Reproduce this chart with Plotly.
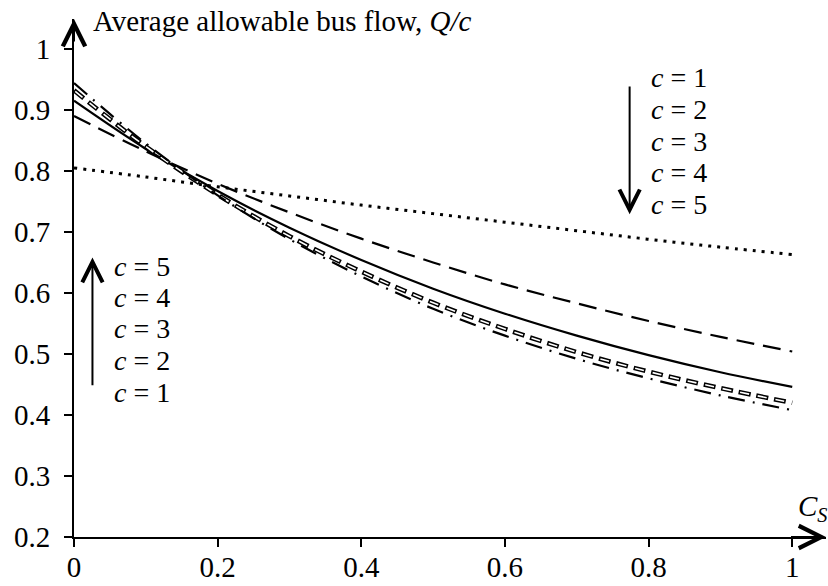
import plotly.graph_objects as go

# Cs values and the average allowable bus flow Q/c for bus stops with c = 1..5 berths
cs = [0.0, 0.1, 0.2, 0.3, 0.4, 0.5, 0.6, 0.7, 0.8, 0.9, 1.0]
q_c1 = [0.805, 0.790, 0.774, 0.759, 0.744, 0.730, 0.716, 0.702, 0.688, 0.675, 0.663]
q_c2 = [0.890, 0.832, 0.779, 0.732, 0.689, 0.650, 0.614, 0.583, 0.554, 0.528, 0.504]
q_c3 = [0.915, 0.836, 0.767, 0.707, 0.654, 0.607, 0.566, 0.530, 0.498, 0.470, 0.446]
q_c4 = [0.932, 0.840, 0.761, 0.693, 0.635, 0.584, 0.541, 0.503, 0.471, 0.444, 0.420]
q_c5 = [0.944, 0.845, 0.760, 0.688, 0.627, 0.574, 0.530, 0.492, 0.460, 0.432, 0.408]

x_ticks = [0, 0.2, 0.4, 0.6, 0.8, 1]
x_tick_text = ["0", "0.2", "0.4", "0.6", "0.8", "1"]
y_ticks = [0.2, 0.3, 0.4, 0.5, 0.6, 0.7, 0.8, 0.9, 1.0]
y_tick_text = ["0.2", "0.3", "0.4", "0.5", "0.6", "0.7", "0.8", "0.9", "1"]

labels_up = ["c = 5", "c = 4", "c = 3", "c = 2", "c = 1"]
labels_down = ["c = 1", "c = 2", "c = 3", "c = 4", "c = 5"]

FONT = "Liberation Serif"
FS = 29
LABEL_FS = 28

fig = go.Figure()


def curve(y, width, dash, color="black"):
    fig.add_trace(go.Scatter(
        x=cs, y=y, mode="lines",
        line=dict(color=color, width=width, dash=dash, shape="spline"),
        showlegend=False, hoverinfo="skip",
    ))


curve(q_c1, 3, "3px,6px")                 # c = 1 dotted
curve(q_c2, 2.2, "18px,9px")              # c = 2 long dash
curve(q_c3, 2.2, "solid")                 # c = 3 solid
curve(q_c4, 4.6, "12px,6px")              # c = 4 outlined dashes (outer)
curve(q_c4, 1.6, "0px,1.5px,9px,7.5px", "white")  # c = 4 outlined dashes (inner)
curve(q_c5, 2.2, "17px,8px,2px,8px")      # c = 5 dash-dot

annotations = []

# axis arrowheads at the ends of the axis lines
annotations.append(dict(x=1, y=0, xref="paper", yref="paper", ax=-40, ay=0,
                        text=" ", showarrow=True, arrowhead=5, arrowsize=2.2,
                        arrowwidth=2, arrowcolor="black"))
annotations.append(dict(x=0, y=1, xref="paper", yref="paper", ax=0, ay=40,
                        text=" ", showarrow=True, arrowhead=5, arrowsize=2.2,
                        arrowwidth=2, arrowcolor="black"))

# trend arrows for the number of berths
annotations.append(dict(x=0.0257, y=0.658, ax=0.0257, ay=0.42, xref="x", yref="y",
                        axref="x", ayref="y", text=" ", showarrow=True,
                        arrowhead=5, arrowsize=2.0, arrowwidth=2, arrowcolor="black"))
annotations.append(dict(x=0.7736, y=0.729, ax=0.7736, ay=0.967, xref="x", yref="y",
                        axref="x", ayref="y", text=" ", showarrow=True,
                        arrowhead=5, arrowsize=2.0, arrowwidth=2, arrowcolor="black"))

up_y = [0.644, 0.593, 0.541, 0.489, 0.437]
for lab, yy in zip(labels_up, up_y):
    annotations.append(dict(x=0.053, y=yy, xref="x", yref="y", xanchor="left",
                            yanchor="middle", showarrow=False,
                            text="<i>c</i>" + lab[1:],
                            font=dict(family=FONT, size=LABEL_FS, color="black")))

down_y = [0.953, 0.901, 0.849, 0.797, 0.745]
for lab, yy in zip(labels_down, down_y):
    annotations.append(dict(x=0.8, y=yy, xref="x", yref="y", xanchor="left",
                            yanchor="middle", showarrow=False,
                            text="<i>c</i>" + lab[1:],
                            font=dict(family=FONT, size=LABEL_FS, color="black")))

# axis titles
annotations.append(dict(x=0.024, y=1.045, xref="x", yref="y", xanchor="left",
                        yanchor="middle", showarrow=False,
                        text="Average allowable bus flow, <i>Q/c</i>",
                        font=dict(family=FONT, size=FS, color="black")))
annotations.append(dict(x=1.028, y=0.248, xref="x", yref="y", xanchor="center",
                        yanchor="middle", showarrow=False,
                        text="<i>C</i><sub><i>S</i></sub>",
                        font=dict(family=FONT, size=FS, color="black")))

fig.update_layout(
    width=828, height=586,
    margin=dict(l=74, r=2, t=19, b=49),
    paper_bgcolor="white", plot_bgcolor="white",
    font=dict(family=FONT, size=FS, color="black"),
    annotations=annotations,
    xaxis=dict(range=[0, 1.047], tickvals=x_ticks, ticktext=x_tick_text,
               showgrid=False, zeroline=False, showline=True, linecolor="black",
               linewidth=2, ticks="outside", ticklen=8, tickwidth=2,
               tickcolor="black", tickfont=dict(family=FONT, size=FS),
               ticklabelstandoff=-5, automargin=False),
    yaxis=dict(range=[0.2, 1.049], tickvals=y_ticks, ticktext=y_tick_text,
               showgrid=False, zeroline=False, showline=True, linecolor="black",
               linewidth=2, ticks="outside", ticklen=8, tickwidth=2,
               tickcolor="black", tickfont=dict(family=FONT, size=FS),
               ticklabelstandoff=8, automargin=False),
)

fig.write_html("out.html")
